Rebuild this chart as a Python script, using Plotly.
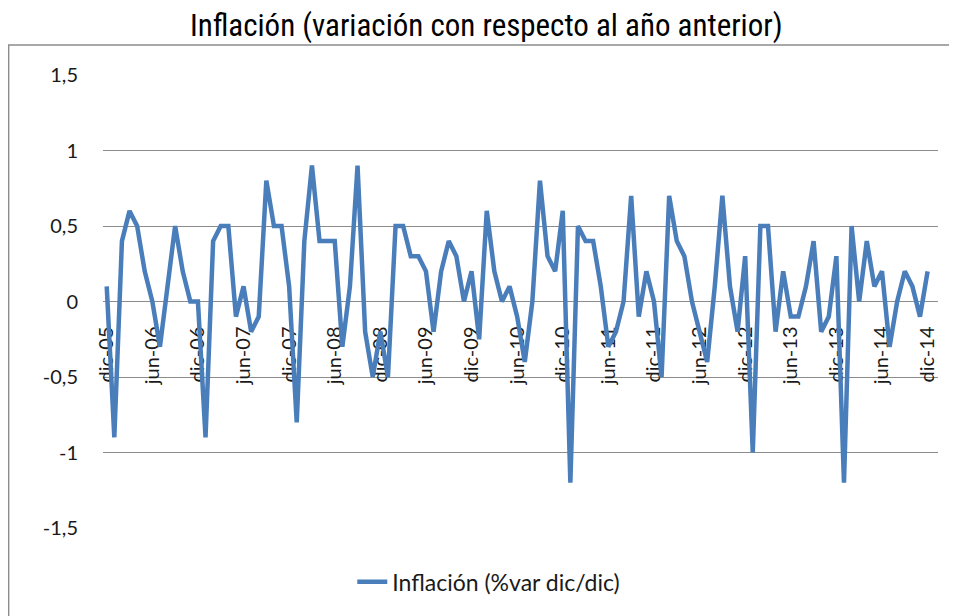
import plotly.graph_objs as go

# month categories, dic-05 .. dic-14
MESES = ["ene", "feb", "mar", "abr", "may", "jun", "jul", "ago", "sep", "oct", "nov", "dic"]
meses = ["dic-05"] + ["{}-{:02d}".format(m, a) for a in range(6, 15) for m in MESES]

# monthly values
inflacion = [
    0.1,
    -0.9, 0.4, 0.6, 0.5, 0.2, 0.0, -0.3, 0.1, 0.5, 0.2, 0.0, 0.0,    # 2006
    -0.9, 0.4, 0.5, 0.5, -0.1, 0.1, -0.2, -0.1, 0.8, 0.5, 0.5, 0.1,  # 2007
    -0.8, 0.4, 0.9, 0.4, 0.4, 0.4, -0.3, 0.1, 0.9, -0.2, -0.5, -0.2, # 2008
    -0.5, 0.5, 0.5, 0.3, 0.3, 0.2, -0.2, 0.2, 0.4, 0.3, 0.0, 0.2,    # 2009
    -0.25, 0.6, 0.2, 0.0, 0.1, -0.1, -0.4, 0.0, 0.8, 0.3, 0.2, 0.6,  # 2010
    -1.2, 0.5, 0.4, 0.4, 0.1, -0.3, -0.2, 0.0, 0.7, -0.1, 0.2, 0.0,  # 2011
    -0.5, 0.7, 0.4, 0.3, 0.0, -0.2, -0.4, 0.1, 0.7, 0.1, -0.2, 0.3,  # 2012
    -1.0, 0.5, 0.5, -0.2, 0.2, -0.1, -0.1, 0.1, 0.4, -0.2, -0.1, 0.3,# 2013
    -1.2, 0.5, 0.0, 0.4, 0.1, 0.2, -0.3, 0.0, 0.2, 0.1, -0.1, 0.2,   # 2014
]

# axis labels every six months
etiquetas = ["dic-05", "jun-06", "dic-06", "jun-07", "dic-07", "jun-08", "dic-08",
             "jun-09", "dic-09", "jun-10", "dic-10", "jun-11", "dic-11", "jun-12",
             "dic-12", "jun-13", "dic-13", "jun-14", "dic-14"]
y_ticks = [-1.5, -1, -0.5, 0, 0.5, 1, 1.5]
y_text = ["-1,5", "-1", "-0,5", "0", "0,5", "1", "1,5"]

fig = go.Figure()
fig.add_trace(go.Scatter(
    x=meses,
    y=inflacion,
    mode="lines",
    name="Inflación (%var dic/dic)",
    line=dict(color="#4A7EBB", width=4.5),
))

# page body adds 8px, so the figure is 8px smaller than the window
fig.update_layout(
    width=949,
    height=608,
    autosize=False,
    margin=dict(l=95, r=19, t=67, b=88),
    paper_bgcolor="white",
    plot_bgcolor="white",
    font=dict(family="Lato, Open Sans, sans-serif", size=17, color="#1a1a1a"),
    title=dict(
        text="Inflación (variación con respecto al año anterior)",
        font=dict(family="Liberation Sans Narrow, Arial Narrow, Roboto Condensed, sans-serif",
                  size=31, color="black"),
        x=0.504, xref="container", xanchor="center",
        y=0.972, yref="container", yanchor="middle",
    ),
    showlegend=True,
    legend=dict(
        orientation="h",
        x=0.462, xanchor="center",
        y=-0.119, yanchor="middle",
        font=dict(size=23, color="#1a1a1a"),
    ),
)

# category axis crossing at zero, labels rotated and drawn under the line
fig.update_xaxes(
    type="category",
    range=[-0.49, 109.37],
    tickvals=etiquetas,
    ticktext=etiquetas,
    tickangle=-90,
    tickfont=dict(size=20),
    anchor="free",
    position=0.5,
    showgrid=False,
    zeroline=False,
    showline=False,
    ticks="",
    ticklabelstandoff=20,
    layer="below traces",
)

fig.update_yaxes(
    range=[-1.5, 1.5],
    tickvals=y_ticks,
    ticktext=y_text,
    tickfont=dict(size=20),
    showgrid=True,
    gridcolor="#8C8C8C",
    gridwidth=1,
    zeroline=False,
    showline=False,
    ticks="",
    ticklabelstandoff=24,
)

# outer chart border
fig.add_shape(
    type="rect", xref="paper", yref="paper",
    x0=-0.113, x1=1.2, y0=-0.4, y1=1.066,
    line=dict(color="#8C8C8C", width=1.5),
    fillcolor="rgba(0,0,0,0)",
    layer="below",
)

fig.write_html("out.html")
